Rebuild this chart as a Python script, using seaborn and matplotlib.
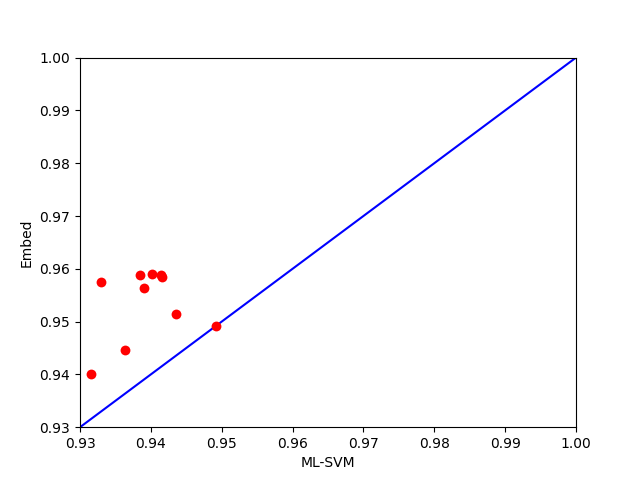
import matplotlib
matplotlib.use('Agg')
import matplotlib.pyplot as plt
import seaborn as sb
import pandas as pd

# Accuracy values
ml_svm = [0.9315, 0.9329, 0.9363, 0.9385, 0.9390, 0.9401, 0.9414, 0.9416, 0.9435, 0.9492]
embed = [0.9401, 0.9575, 0.9446, 0.9588, 0.9563, 0.9590, 0.9588, 0.9585, 0.9514, 0.9492]
diag = [0.93, 1.00]

df = pd.DataFrame({'ML-SVM': ml_svm, 'Embed': embed})
line = pd.DataFrame({'x': diag, 'y': diag})

fig, ax = plt.subplots(figsize=(6.4, 4.8), dpi=100)
sb.scatterplot(data=df, x='ML-SVM', y='Embed', color='r', s=50, linewidth=0, ax=ax, zorder=3)
sb.lineplot(data=line, x='x', y='y', color='b', ax=ax, zorder=2)

ax.set_xlim(0.93, 1.00)
ax.set_ylim(0.93, 1.00)
ax.set_xlabel('ML-SVM')
ax.set_ylabel('Embed')

fig.savefig('out.png')
